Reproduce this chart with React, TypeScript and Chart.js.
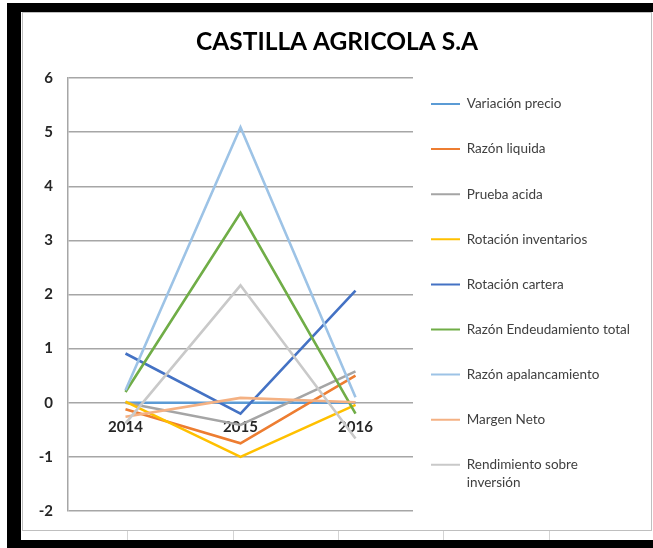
import React, { useEffect, useRef } from "react";
import { Chart, registerables } from "chart.js";

Chart.register(...registerables);

const categories = ["2014", "2015", "2016"];

const variacionPrecio = [0, 0, 0];
const razonLiquida = [-0.12, -0.75, 0.5];
const pruebaAcida = [0.0, -0.41, 0.58];
const rotacionInventarios = [0.02, -1.0, -0.04];
const rotacionCartera = [0.91, -0.2, 2.07];
const razonEndeudamiento = [0.2, 3.51, -0.2];
const razonApalancamiento = [0.23, 5.09, 0.1];
const margenNeto = [-0.26, 0.09, 0.01];
const rendimientoInversion = [-0.38, 2.17, -0.66];

const seriesLabels = [
  "Variación precio",
  "Razón liquida",
  "Prueba acida",
  "Rotación inventarios",
  "Rotación cartera",
  "Razón Endeudamiento total",
  "Razón apalancamiento",
  "Margen Neto",
  "Rendimiento sobre inversión",
];
const seriesValues = [
  variacionPrecio,
  razonLiquida,
  pruebaAcida,
  rotacionInventarios,
  rotacionCartera,
  razonEndeudamiento,
  razonApalancamiento,
  margenNeto,
  rendimientoInversion,
];
const seriesColors = [
  "#5B9BD5",
  "#ED7D31",
  "#A5A5A5",
  "#FFC000",
  "#4472C4",
  "#70AD47",
  "#9DC3E6",
  "#F4B183",
  "#C9C9C9",
];

const yMin = -2;
const yMax = 6;
const yStep = 1;

const titleText = "CASTILLA AGRICOLA S.A";

const FONT = "Lato, 'Open Sans', sans-serif";
const LEGEND_FONT_SIZE = 13.5;
const LEGEND_PADDING = 31.6;
const SIDE_PAD = 12;

const legendPlacer = {
  id: "legendPlacer",
  afterLayout(chart: any) {
    const lg = chart.legend;
    if (!lg) return;
    lg.left = 408 - LEGEND_PADDING;
    lg.top = 91 - LEGEND_PADDING - LEGEND_FONT_SIZE / 2;
    lg.bottom = 2000;
    lg.right = lg.left + 260;
  },
};

export default function App() {
  const ref = useRef<HTMLCanvasElement | null>(null);

  useEffect(() => {
    if (!ref.current) return;
    const datasets = seriesLabels.map((label, i) => ({
      label,
      data: seriesValues[i],
      borderColor: seriesColors[i],
      backgroundColor: seriesColors[i],
      borderWidth: 2.6,
      pointRadius: 0,
      pointHoverRadius: 0,
      tension: 0,
      fill: false,
      order: -i,
    }));
    const chart = new Chart(ref.current, {
      type: "line",
      data: { labels: categories, datasets },
      plugins: [legendPlacer],
      options: {
        responsive: false,
        animation: false,
        devicePixelRatio: 1,
        layout: { padding: { left: SIDE_PAD, right: SIDE_PAD, top: 0, bottom: 19 } },
        plugins: {
          tooltip: { enabled: false },
          title: {
            display: true,
            text: titleText,
            color: "#000000",
            font: { family: FONT, size: 24.5, weight: "bold" },
            padding: { top: 14, bottom: 21.6 },
          },
          legend: {
            display: true,
            position: "right",
            align: "start",
            maxWidth: 238 - SIDE_PAD,
            labels: {
              color: "#404040",
              font: { family: FONT, size: LEGEND_FONT_SIZE, lineHeight: 1.33 },
              boxWidth: 29,
              boxHeight: 2,
              padding: LEGEND_PADDING,
              sort: (a: any, b: any) => a.datasetIndex - b.datasetIndex,
              generateLabels: (chart: any) => {
                const items = Chart.defaults.plugins.legend.labels.generateLabels(chart);
                return items
                  .map((it: any) => {
                    const txt =
                      it.text === "Rendimiento sobre inversión"
                        ? ["Rendimiento sobre", "inversión"]
                        : it.text;
                    return {
                      ...it,
                      text: txt,
                      fillStyle: seriesColors[it.datasetIndex],
                      strokeStyle: seriesColors[it.datasetIndex],
                      lineWidth: 0,
                    };
                  })
                  .sort((a: any, b: any) => a.datasetIndex - b.datasetIndex);
              },
            },
          },
        },
        scales: {
          x: {
            type: "category",
            offset: true,
            position: { y: 0 } as any,
            grid: { display: false, drawTicks: false },
            border: { display: false },
            ticks: {
              color: "#262626",
              font: { family: FONT, size: 15, weight: "bold" },
              padding: 15,
              maxRotation: 0,
              autoSkip: false,
            },
          },
          y: {
            type: "linear",
            min: yMin,
            max: yMax,
            afterFit: (s: any) => {
              s.width = 45 - SIDE_PAD;
              s.paddingTop = 0;
              s.paddingBottom = 0;
            },
            grid: {
              color: "#a6a6a6",
              lineWidth: 1.5,
              drawTicks: false,
            },
            border: { display: true, color: "#a6a6a6", width: 1.5 },
            ticks: {
              stepSize: yStep,
              color: "#262626",
              font: { family: FONT, size: 15, weight: "bold" },
              padding: 15,
            },
          },
        },
      },
    });
    return () => chart.destroy();
  }, []);

  const cellLines = [127, 233, 338, 443, 549];

  return (
    <div
      style={{
        position: "absolute",
        left: 0,
        top: 0,
        width: 653,
        height: 548,
        background: "#ffffff",
        overflow: "hidden",
      }}
    >
      {cellLines.map((x) => (
        <div
          key={x}
          style={{ position: "absolute", left: x, top: 530, width: 1, height: 10, background: "#d4d4d4" }}
        />
      ))}
      <div style={{ position: "absolute", left: 7, top: 3, width: 646, height: 9, background: "#000" }} />
      <div style={{ position: "absolute", left: 7, top: 3, width: 14, height: 545, background: "#000" }} />
      <div style={{ position: "absolute", left: 7, top: 540, width: 646, height: 8, background: "#000" }} />
      <div
        style={{
          position: "absolute",
          left: 22,
          top: 12,
          width: 628,
          height: 517,
          border: "1px solid #bfbfbf",
          background: "#ffffff",
        }}
      >
        <canvas ref={ref} width={628} height={517} style={{ display: "block", width: 628, height: 517 }} />
      </div>
    </div>
  );
}
